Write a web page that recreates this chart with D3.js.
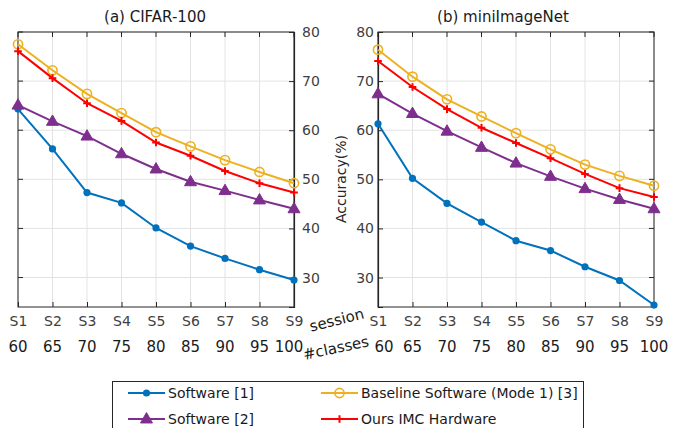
<!DOCTYPE html>
<html><head><meta charset="utf-8">
<script src="https://cdn.jsdelivr.net/npm/d3@7"></script>
<style>
html,body{margin:0;padding:0;background:#fff;}
svg{display:block;font-family:"DejaVu Sans",sans-serif;}
</style></head>
<body>
<svg id="c" width="682" height="428"></svg>
<script>
const sessions = ["S1","S2","S3","S4","S5","S6","S7","S8","S9"];
const classes = ["60","65","70","75","80","85","90","95","100"];
const yTicks = [30,40,50,60,70,80];
const seriesNames = ["Software [1]","Software [2]","Baseline Software (Mode 1) [3]","Ours IMC Hardware"];
const seriesColors = ["#0072BD","#7E2F8E","#EDB120","#FF0000"];
const seriesMarkers = ["dot","triangle","circle","plus"];

// CIFAR-100
const cifarSoftware1 = [64.3,56.2,47.3,45.2,40.1,36.4,33.9,31.6,29.5];
const cifarSoftware2 = [65.1,61.8,58.8,55.2,52.1,49.5,47.7,45.8,44.0];
const cifarBaseline  = [77.5,72.2,67.4,63.5,59.6,56.7,53.9,51.5,49.2];
const cifarOurs      = [76.1,70.6,65.5,61.9,57.5,54.8,51.7,49.2,47.3];
// miniImageNet
const miniSoftware1 = [61.3,50.2,45.1,41.3,37.5,35.5,32.2,29.4,24.4];
const miniSoftware2 = [67.4,63.4,59.8,56.5,53.3,50.6,48.1,45.9,44.0];
const miniBaseline  = [76.4,70.9,66.3,62.8,59.4,56.1,53.0,50.7,48.7];
const miniOurs      = [74.1,68.8,64.3,60.5,57.4,54.3,51.1,48.2,46.4];

const svg = d3.select("#c");
const yDomain = [24,80];
const plotTop = 32, plotBottom = 307;

function marker(g, type, color, x, y){
  if(type==="dot"){
    g.append("circle").attr("cx",x).attr("cy",y).attr("r",3.6).attr("fill",color);
  } else if(type==="circle"){
    g.append("circle").attr("cx",x).attr("cy",y).attr("r",4.6).attr("fill","none").attr("stroke",color).attr("stroke-width",1.6);
  } else if(type==="triangle"){
    g.append("path").attr("d",d3.symbol(d3.symbolTriangle,62)()).attr("transform",`translate(${x},${y+0.5})`)
      .attr("fill",color).attr("stroke",color).attr("stroke-width",1);
  } else if(type==="plus"){
    g.append("path").attr("d",`M${x-3.8},${y}H${x+3.8}M${x},${y-3.8}V${y+3.8}`).attr("stroke",color).attr("stroke-width",2);
  }
}

function panel(left, right, title, titleX, data, axisSide, classNudge){
  const x = d3.scalePoint().domain(sessions).range([left,right]);
  const y = d3.scaleLinear().domain(yDomain).range([plotBottom,plotTop]);
  const g = svg.append("g");
  sessions.forEach(s=>{
    g.append("line").attr("x1",x(s)).attr("x2",x(s)).attr("y1",plotTop).attr("y2",plotBottom).attr("stroke","#e3e3e3").attr("stroke-width",1);
  });
  yTicks.forEach(t=>{
    g.append("line").attr("x1",left).attr("x2",right).attr("y1",y(t)).attr("y2",y(t)).attr("stroke","#e3e3e3").attr("stroke-width",1);
  });
  g.append("rect").attr("x",left).attr("y",plotTop).attr("width",right-left).attr("height",plotBottom-plotTop)
    .attr("fill","none").attr("stroke","#262626").attr("stroke-width",1);
  const yAxis = axisSide==="right" ? d3.axisRight(y) : d3.axisLeft(y);
  const ya = g.append("g").attr("transform",`translate(${axisSide==="right"?right:left},0)`)
    .call(yAxis.tickValues(yTicks).tickSize(-5).tickPadding(axisSide==="right"?8:4));
  ya.select(".domain").attr("stroke","#262626").attr("stroke-width",1.2);
  ya.selectAll(".tick line").attr("stroke","#262626");
  ya.selectAll("text").attr("fill","#404040").style("font-size","14px").style("font-family","DejaVu Sans");
  const opp = axisSide==="right"?left:right;
  yTicks.forEach(t=>{
    const dir = axisSide==="right"?1:-1;
    g.append("line").attr("x1",opp).attr("x2",opp+5*dir).attr("y1",y(t)).attr("y2",y(t)).attr("stroke","#262626");
  });
  const xa = g.append("g").attr("transform",`translate(0,${plotBottom})`)
    .call(d3.axisBottom(x).tickSize(-5).tickPadding(9));
  xa.select(".domain").remove();
  xa.selectAll(".tick line").attr("stroke","#262626");
  xa.selectAll("text").attr("fill","#404040").style("font-size","14px").style("font-family","DejaVu Sans");
  sessions.forEach(s=>{
    g.append("line").attr("x1",x(s)).attr("x2",x(s)).attr("y1",plotTop).attr("y2",plotTop+5).attr("stroke","#262626");
  });
  const cx = d3.scalePoint().domain(classes).range([left,right]);
  classes.forEach((c,i)=>{
    g.append("text").attr("x",cx(c)).attr("dx",classNudge[i]||0).attr("y",352).attr("text-anchor","middle")
      .attr("fill","#1a1a1a").style("font-size","15px").text(c);
  });
  g.append("text").attr("x",titleX).attr("y",22).attr("text-anchor","middle")
    .attr("fill","#1a1a1a").style("font-size","15px").text(title);
  const line = d3.line().x((d,i)=>x(sessions[i])).y(d=>y(d));
  data.forEach((vals,k)=>{
    g.append("path").attr("d",line(vals)).attr("fill","none").attr("stroke",seriesColors[k]).attr("stroke-width",2);
    vals.forEach((v,i)=>marker(g,seriesMarkers[k],seriesColors[k],x(sessions[i]),y(v)));
  });
  return y;
}

panel(18,294,"(a) CIFAR-100",155,[cifarSoftware1,cifarSoftware2,cifarBaseline,cifarOurs],"right",[0,0,0,0,0,0,0,0,-5]);
panel(378,654,"(b) miniImageNet",503,[miniSoftware1,miniSoftware2,miniBaseline,miniOurs],"left",[6,0,0,0,0,0,0,0,0]);

svg.append("text").attr("transform","translate(346,179) rotate(-90)").attr("text-anchor","middle")
  .attr("fill","#262626").style("font-size","14px").text("Accuracy(%)");
svg.append("text").attr("transform","translate(338,325) rotate(-14)").attr("text-anchor","middle")
  .attr("fill","#1a1a1a").style("font-size","15px").text("session");
svg.append("text").attr("transform","translate(337,353) rotate(-12)").attr("text-anchor","middle")
  .attr("fill","#1a1a1a").style("font-size","15px").text("#classes");

const lg = svg.append("g");
lg.append("rect").attr("x",112.5).attr("y",381.5).attr("width",471).attr("height",60)
  .attr("fill","#fff").attr("stroke","#262626").attr("stroke-width",1);
const legPos = [[128,393],[128,419],[321,393],[321,419]];
seriesNames.forEach((n,k)=>{
  const [lx,ly] = legPos[k];
  lg.append("line").attr("x1",lx).attr("x2",lx+37).attr("y1",ly).attr("y2",ly).attr("stroke",seriesColors[k]).attr("stroke-width",2);
  marker(lg,seriesMarkers[k],seriesColors[k],lx+18.5,ly);
  lg.append("text").attr("x",lx+40).attr("y",ly+5).attr("fill","#1a1a1a").style("font-size","14px").text(n);
});
</script>
</body></html>
